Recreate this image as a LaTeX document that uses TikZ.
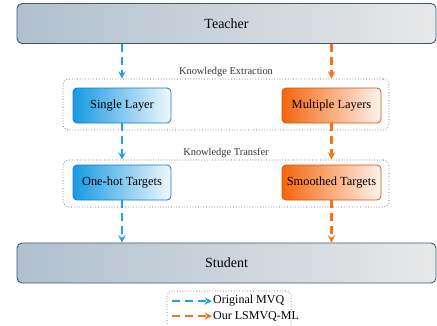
\documentclass[tikz,border=0pt]{standalone}
\usepackage{fontspec}
\setmainfont{Liberation Serif}
\usepackage{xcolor}
\usetikzlibrary{shapes,arrows,positioning,calc}

\definecolor{slateL}{HTML}{B0C0CE}
\definecolor{slateR}{HTML}{E8E8E8}
\definecolor{slateB}{HTML}{3E5870}
\definecolor{blueL}{HTML}{169AE2}
\definecolor{blueR}{HTML}{F0F8FD}
\definecolor{blueB}{HTML}{1A78BE}
\definecolor{orngL}{HTML}{F4660C}
\definecolor{orngR}{HTML}{FFF3EC}
\definecolor{orngB}{HTML}{D4520E}
\definecolor{arrB}{HTML}{22A0E4}
\definecolor{arrO}{HTML}{F57318}

\begin{document}
\begin{tikzpicture}[x=1pt,y=-1pt,
	bigbox/.style={draw=slateB,line width=0.9pt,rounded corners=5pt,left color=slateL,right color=slateR,minimum width=419pt,minimum height=40pt,font=\fontsize{14}{16}\selectfont},
	bluebox/.style={draw=blueB,line width=0.8pt,rounded corners=4pt,left color=blueL,right color=blueR,minimum width=98pt,minimum height=35pt,font=\fontsize{12.4}{14}\selectfont},
	orngbox/.style={draw=orngB,line width=0.8pt,rounded corners=4pt,left color=orngL,right color=orngR,minimum width=99pt,minimum height=35pt,font=\fontsize{12.4}{14}\selectfont},
	stagebox/.style={draw=black!65,dotted,line width=0.7pt,rounded corners=6pt,minimum width=326pt},
	stagelabel/.style={font=\fontsize{10.4}{12}\selectfont,text=black!80,inner sep=1.5pt},
	bluearrow/.style={-stealth,arrB,line width=2.2pt,dash pattern=on 8pt off 5pt},
	orngarrow/.style={-stealth,arrO,line width=2.2pt,dash pattern=on 8pt off 5pt}]
	\useasboundingbox (0,0) rectangle (437,325);
	% teacher and student
	\node[bigbox] (teacher) at (226.5,23.5) {Teacher};
	\node[bigbox] (student) at (226.5,263) {Student};
	% knowledge extraction
	\node[stagebox,minimum height=51pt] (extract) at (226,104.5) {};
	\node[stagelabel,above=0pt of extract] (extractlab) {Knowledge Extraction};
	\node[bluebox] (single) at (122,105.5) {Single Layer};
	\node[orngbox] (multi) at (331.5,105.5) {Multiple Layers};
	% knowledge transfer
	\node[stagebox,minimum height=47pt] (transfer) at (226,183.5) {};
	\node[stagelabel,above=0pt of transfer] (transferlab) {Knowledge Transfer};
	\node[bluebox] (onehot) at (122,182.5) {One-hot Targets};
	\node[orngbox] (smooth) at (331.5,182.5) {Smoothed Targets};
	% arrows
	\draw[bluearrow] (teacher.south -| single) -- (extract.north -| single);
	\draw[orngarrow] (teacher.south -| multi) -- (extract.north -| multi);
	\draw[bluearrow] (single) -- (transfer.north -| single);
	\draw[orngarrow] (multi) -- (transfer.north -| multi);
	\draw[bluearrow] (onehot) -- (student.north -| onehot);
	\draw[orngarrow] (smooth) -- (student.north -| smooth);
	% legend
	\draw[draw=black!65,dotted,line width=0.7pt,rounded corners=5pt] (167,329) -- (167,291) -- (291,291) -- (291,329);
	\coordinate (leg1a) at (172,301);
	\coordinate (leg1b) at (212,301);
	\coordinate (leg2a) at (172,316);
	\coordinate (leg2b) at (212,316);
	\draw[bluearrow] (leg1a) -- (leg1b);
	\draw[orngarrow] (leg2a) -- (leg2b);
	\node[right=0pt of leg1b,font=\fontsize{12}{14}\selectfont,inner sep=1pt] (leg1) {Original MVQ};
	\node[right=0pt of leg2b,font=\fontsize{12}{14}\selectfont,inner sep=1pt] (leg2) {Our LSMVQ-ML};
\end{tikzpicture}
\end{document}
